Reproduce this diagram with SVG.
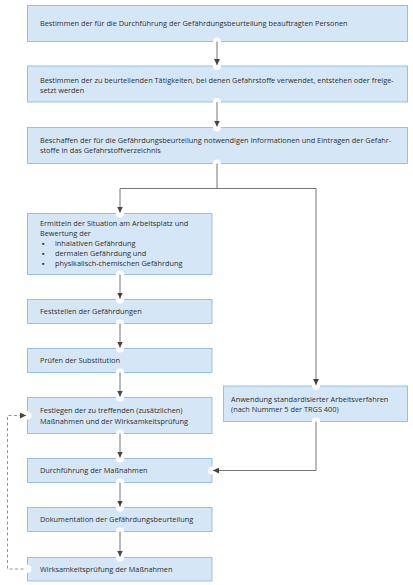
<svg xmlns="http://www.w3.org/2000/svg" width="413" height="585" viewBox="0 0 413 585">
<style>
.box{fill:#d5e7f7;stroke:#86b4da;stroke-width:0.8}
.t{font-family:"Open Sans","Noto Sans","Liberation Sans",sans-serif;font-size:7.35px;fill:#2e2e2e}
.ln{fill:none;stroke:#666;stroke-width:0.9}
.dash{fill:none;stroke:#777;stroke-width:0.8;stroke-dasharray:3 2.5}
.port{fill:#fff}
</style>
<defs>
<marker id="ah" viewBox="0 0 6 6" refX="6" refY="3" markerWidth="6" markerHeight="6" markerUnits="userSpaceOnUse" orient="auto">
<path d="M0,0 L6,3 L0,6 Z" fill="#444"/>
</marker>
</defs>
<rect width="413" height="585" fill="#fff"/>
<g id="n1"><rect class="box" x="27.5" y="5.5" width="380" height="36"/><text class="t" x="40" y="26">Bestimmen der für die Durchführung der Gefährdungsbeurteilung beauftragten Personen</text></g>
<g id="n2"><rect class="box" x="27.5" y="66" width="380" height="36"/><text class="t" x="40" y="82.5">Bestimmen der zu beurteilenden Tätigkeiten, bei denen Gefahrstoffe verwendet, entstehen oder freige-</text><text class="t" x="40" y="92.5">setzt werden</text></g>
<g id="n3"><rect class="box" x="27.5" y="127.5" width="380" height="36"/><text class="t" x="40" y="142.5">Beschaffen der für die Gefährdungsbeurteilung notwendigen Informationen und Eintragen der Gefahr-</text><text class="t" x="40" y="152.5">stoffe in das Gefahrstoffverzeichnis</text></g>
<g id="n4"><rect class="box" x="27.5" y="213.5" width="184.5" height="61"/><text class="t" x="40" y="225.5">Ermitteln der Situation am Arbeitsplatz und</text><text class="t" x="40" y="235.5">Bewertung der</text><text class="t" x="42" y="245.5">▪</text><text class="t" x="55" y="245.5">inhalativen Gefährdung</text><text class="t" x="42" y="255.5">▪</text><text class="t" x="55" y="255.5">dermalen Gefährdung und</text><text class="t" x="42" y="265.5">▪</text><text class="t" x="55" y="265.5">physikalisch-chemischen Gefährdung</text></g>
<g id="n5"><rect class="box" x="27.5" y="299.5" width="184.5" height="24"/><text class="t" x="40" y="313.5">Feststellen der Gefährdungen</text></g>
<g id="n6"><rect class="box" x="27.5" y="348.5" width="184.5" height="24"/><text class="t" x="40" y="362.5">Prüfen der Substitution</text></g>
<g id="n7"><rect class="box" x="27.5" y="397.5" width="184.5" height="36"/><text class="t" x="40" y="413">Festlegen der zu treffenden (zusätzlichen)</text><text class="t" x="40" y="424">Maßnahmen und der Wirksamkeitsprüfung</text></g>
<g id="n8"><rect class="box" x="27.5" y="458.5" width="184.5" height="24"/><text class="t" x="40" y="473">Durchführung der Maßnahmen</text></g>
<g id="n9"><rect class="box" x="27.5" y="507.5" width="184.5" height="24"/><text class="t" x="40" y="521.5">Dokumentation der Gefährdungsbeurteilung</text></g>
<g id="n10"><rect class="box" x="27.5" y="557.5" width="184.5" height="23.5"/><text class="t" x="40" y="571.5">Wirksamkeitsprüfung der Maßnahmen</text></g>
<g id="n11"><rect class="box" x="223.5" y="386" width="184" height="35.5"/><text class="t" x="231" y="401.5">Anwendung standardisierter Arbeitsverfahren</text><text class="t" x="231" y="411.5">(nach Nummer 5 der TRGS 400)</text></g>
<g id="ports">
<circle class="port" cx="217" cy="41.5" r="4"/><circle class="port" cx="217" cy="66" r="4"/>
<circle class="port" cx="217" cy="102" r="4"/><circle class="port" cx="217" cy="127.5" r="4"/>
<circle class="port" cx="217" cy="163.5" r="4"/><circle class="port" cx="120" cy="213.5" r="4"/>
<circle class="port" cx="316" cy="386" r="4"/><circle class="port" cx="316" cy="421.5" r="4"/>
<circle class="port" cx="120" cy="274.5" r="4"/><circle class="port" cx="120" cy="299.5" r="4"/>
<circle class="port" cx="120" cy="323.5" r="4"/><circle class="port" cx="120" cy="348.5" r="4"/>
<circle class="port" cx="120" cy="372.5" r="4"/><circle class="port" cx="120" cy="397.5" r="4"/>
<circle class="port" cx="120" cy="433.5" r="4"/><circle class="port" cx="120" cy="458.5" r="4"/>
<circle class="port" cx="120" cy="482.5" r="4"/><circle class="port" cx="120" cy="507.5" r="4"/>
<circle class="port" cx="120" cy="531.5" r="4"/><circle class="port" cx="120" cy="557.5" r="4"/>
<circle class="port" cx="212" cy="470.5" r="4"/><circle class="port" cx="27.5" cy="415.5" r="4"/>
<circle class="port" cx="27.5" cy="569" r="4"/>
</g>
<g id="connectors">
<path class="ln" d="M217,41.5 V65" marker-end="url(#ah)"/>
<path class="ln" d="M217,102 V126.5" marker-end="url(#ah)"/>
<path class="ln" d="M217,163.5 V188.5"/>
<path class="ln" d="M120,188.5 H316"/>
<path class="ln" d="M120,188.5 V212.5" marker-end="url(#ah)"/>
<path class="ln" d="M316,188.5 V385" marker-end="url(#ah)"/>
<path class="ln" d="M120,274.5 V298.5" marker-end="url(#ah)"/>
<path class="ln" d="M120,323.5 V347.5" marker-end="url(#ah)"/>
<path class="ln" d="M120,372.5 V396.5" marker-end="url(#ah)"/>
<path class="ln" d="M120,433.5 V457.5" marker-end="url(#ah)"/>
<path class="ln" d="M120,482.5 V506.5" marker-end="url(#ah)"/>
<path class="ln" d="M120,531.5 V556.5" marker-end="url(#ah)"/>
<path class="ln" d="M316,421.5 V470.5 H213" marker-end="url(#ah)"/>
<path class="dash" d="M23.5,569 H7.5 V415.5 H26" marker-end="url(#ah)"/>
</g>
</svg>
